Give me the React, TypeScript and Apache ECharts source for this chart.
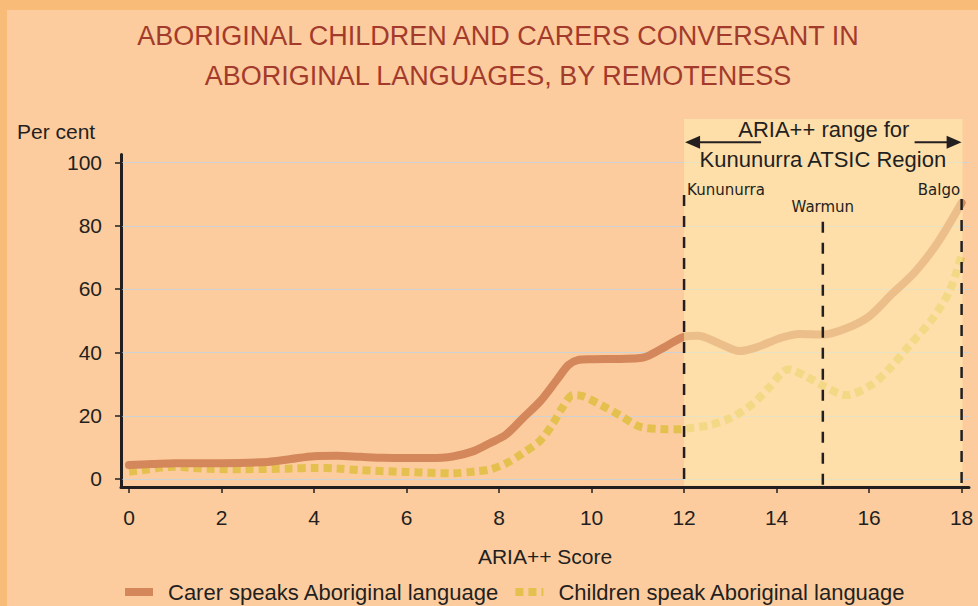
import React, { useEffect, useRef } from "react";
import * as echarts from "echarts";

const titleLines = [
  "ABORIGINAL CHILDREN AND CARERS CONVERSANT IN",
  "ABORIGINAL LANGUAGES, BY REMOTENESS",
];
const yAxisTitle = "Per cent";
const xAxisTitle = "ARIA++ Score";
const xTickValues = [0, 2, 4, 6, 8, 10, 12, 14, 16, 18];
const yTickValues = [0, 20, 40, 60, 80, 100];
const seriesNames = [
  "Carer speaks Aboriginal language",
  "Children speak Aboriginal language",
];

const carerX = [0, 0.5, 1, 2, 3, 3.5, 4, 4.5, 5, 5.5, 6, 6.5, 7, 7.45, 7.8, 8.15, 8.5, 8.9, 9.25, 9.5, 9.7, 10, 10.5, 11, 11.2, 11.6, 12, 12.3, 12.7, 13.2, 13.55, 14.1, 14.5, 15, 15.5, 16, 16.5, 17, 17.5, 18];
const carerY = [4.4, 4.7, 5.0, 5.0, 5.4, 6.3, 7.2, 7.3, 7.0, 6.7, 6.6, 6.6, 7.1, 8.8, 11.3, 14.0, 19.0, 24.7, 31.3, 36.0, 37.5, 37.8, 37.9, 38.1, 38.7, 41.8, 44.9, 45.2, 43.2, 40.4, 41.5, 44.6, 45.8, 45.6, 47.5, 51.3, 58.5, 65.5, 75.0, 87.2];

const childX = [0, 0.4, 0.7, 1, 1.3, 1.7, 2.5, 3.5, 4, 4.5, 5, 6, 7, 7.5, 7.8, 8.15, 8.5, 8.9, 9.17, 9.38, 9.6, 9.8, 10.2, 10.6, 11.05, 11.5, 11.9, 12.2, 12.55, 13, 13.5, 13.85, 14.25, 14.65, 15.05, 15.5, 16.05, 16.45, 16.85, 17.35, 17.75, 18];
const childY = [2.3, 3.0, 3.6, 3.9, 3.6, 3.2, 3.1, 3.3, 3.5, 3.3, 2.8, 2.2, 1.8, 2.4, 3.0, 4.9, 8.0, 12.3, 17.6, 22.8, 26.5, 26.2, 23.4, 20.2, 16.5, 15.8, 15.7, 16.2, 17.0, 19.2, 23.9, 29.1, 34.6, 32.3, 29.1, 26.5, 29.7, 35.0, 41.8, 50.2, 59.7, 70.7];

const rangeLines = ["ARIA++ range for", "Kununurra ATSIC Region"];
const rangeFrom = 12;
const rangeTo = 18;
const placeNames = ["Kununurra", "Warmun", "Balgo"];
const placeScores = [12, 15, 18];
const placeLineTops = [89.7, 81.2, 88.4];

const INK = "#231F20";
const CARER = "#D4875A";
const CHILD = "#E4C04F";
const OUTER = "#F8BB78";
const INNER = "#FCCC9E";
const GRIDLINE = "#CDD3D5";
const SANS = "Liberation Sans";

const X_MIN = -0.173;
const X_MAX = 18.16;

export default function App() {
  const ref = useRef<HTMLDivElement>(null);

  useEffect(() => {
    const el = ref.current;
    if (!el) return;
    const chart = echarts.init(el, null, { renderer: "svg" });
    const option: any = {
      animation: false,
      backgroundColor: "transparent",
      title: [
        {
          text: titleLines.join("\n"),
          left: 498,
          top: 16,
          padding: 0,
          textAlign: "center",
          textStyle: {
            fontFamily: SANS,
            fontSize: 27,
            fontWeight: "normal",
            color: "#A33B2C",
            lineHeight: 40,
          },
        },
        {
          text: yAxisTitle,
          left: 17,
          top: 120.5,
          padding: 0,
          textStyle: {
            fontFamily: SANS,
            fontSize: 21,
            fontWeight: "normal",
            color: INK,
            lineHeight: 21,
          },
        },
      ],
      legend: {
        left: 125,
        top: 581,
        padding: 0,
        itemWidth: 28,
        itemHeight: 8,
        itemGap: 16,
        symbolKeepAspect: false,
        textStyle: {
          fontFamily: SANS,
          fontSize: 22,
          color: INK,
          padding: [10, 0, 0, 10],
        },
        data: [
          { name: seriesNames[0], icon: "rect", itemStyle: { color: CARER, borderWidth: 0 } },
          {
            name: seriesNames[1],
            icon: "path://M0,0H8V8H0Z M13,0H21V8H13Z M26,0H28V8H26Z",
            itemStyle: { color: CHILD, borderWidth: 0 },
          },
        ],
      },
      grid: {
        left: 121,
        right: 9,
        top: 154.4,
        bottom: 119.1,
        containLabel: false,
        outerBoundsMode: "none",
      },
      xAxis: {
        type: "value",
        min: X_MIN,
        max: X_MAX,
        name: xAxisTitle,
        nameLocation: "middle",
        nameGap: 59.5,
        nameTextStyle: { fontFamily: SANS, fontSize: 21, color: INK },
        axisLine: { show: true, onZero: false, lineStyle: { color: INK, width: 3 } },
        axisTick: {
          show: true,
          customValues: xTickValues,
          length: 6,
          lineStyle: { color: INK, width: 1.5 },
        },
        axisLabel: {
          customValues: xTickValues,
          margin: 20,
          fontFamily: SANS,
          fontSize: 21,
          color: INK,
        },
        splitLine: { show: false },
      },
      yAxis: {
        type: "value",
        min: -2.5,
        max: 102.5,
        axisLine: { show: true, onZero: false, lineStyle: { color: INK, width: 3 } },
        axisTick: {
          show: true,
          customValues: yTickValues,
          length: 6,
          lineStyle: { color: INK, width: 1.5 },
        },
        axisLabel: {
          customValues: yTickValues,
          margin: 19,
          fontFamily: SANS,
          fontSize: 21,
          color: INK,
        },
        splitLine: { show: false },
      },
      series: [
        {
          type: "line",
          name: seriesNames[1],
          data: childX.map((x, i) => [x, childY[i]]),
          symbol: "none",
          smooth: 0.3,
          z: 3,
          itemStyle: { color: CHILD },
          lineStyle: { color: CHILD, width: 8, type: [8, 5], cap: "butt" },
        },
        {
          type: "line",
          name: seriesNames[0],
          data: carerX.map((x, i) => [x, carerY[i]]),
          symbol: "none",
          smooth: 0.3,
          z: 4,
          itemStyle: { color: CARER },
          lineStyle: { color: CARER, width: 8, cap: "round", join: "round" },
        },
      ],
    };
    chart.setOption(option);

    const px = (x: number, y: number) =>
      chart.convertToPixel({ gridIndex: 0 }, [x, y]) as number[];

    const graphics: any[] = [];

    // horizontal grid lines at the y tick values
    yTickValues.forEach((v) => {
      const [gx1, gy] = px(X_MIN, v);
      const [gx2] = px(X_MAX, v);
      graphics.push({
        type: "line",
        silent: true,
        z: 1,
        shape: { x1: gx1 + 1.5, y1: Math.round(gy) + 0.5, x2: gx2, y2: Math.round(gy) + 0.5 },
        style: { stroke: GRIDLINE, lineWidth: 1 },
      });
    });

    const [xa, yTop] = px(rangeFrom, 113.7);
    const [xb, yBot] = px(rangeTo, -2.5);
    const [, arrowY] = px(rangeTo, 106.3);
    const cx = (xa + xb) / 2;

    graphics.push({
      type: "rect",
      silent: true,
      z: 50,
      shape: { x: xa, y: yTop, width: xb - xa + 1, height: yBot - yTop - 1.5 },
      style: { fill: "rgba(255,236,178,0.55)" },
    });

    placeScores.forEach((s, i) => {
      const [lx, ly1] = px(s, placeLineTops[i]);
      const [, ly2] = px(s, -2.5);
      graphics.push({
        type: "line",
        silent: true,
        z: 60,
        shape: { x1: lx, y1: ly1, x2: lx, y2: ly2 },
        style: { stroke: INK, lineWidth: 2.5, lineDash: [11, 10] },
      });
      let tx = lx;
      let align = "center";
      let ty = ly1 - 15;
      if (i === 0) {
        tx = lx + 3;
        align = "left";
        ty = ly1 - 5;
      } else if (i === placeScores.length - 1) {
        tx = lx - 1.5;
        align = "right";
        ty = ly1 - 9.5;
      }
      graphics.push({
        type: "text",
        silent: true,
        z: 60,
        x: tx,
        y: ty,
        style: {
          text: placeNames[i],
          fill: INK,
          font: "15px 'DejaVu Sans'",
          textAlign: align,
          textVerticalAlign: "middle",
        },
      });
    });

    // range arrows
    const tipL = xa + 1;
    const tipR = xb;
    graphics.push(
      {
        type: "line",
        silent: true,
        z: 60,
        shape: { x1: tipL + 8, y1: arrowY, x2: tipL + 76, y2: arrowY },
        style: { stroke: INK, lineWidth: 2 },
      },
      {
        type: "polygon",
        silent: true,
        z: 60,
        shape: { points: [[tipL, arrowY], [tipL + 15, arrowY - 6.5], [tipL + 15, arrowY + 6.5]] },
        style: { fill: INK },
      },
      {
        type: "line",
        silent: true,
        z: 60,
        shape: { x1: tipR - 47, y1: arrowY, x2: tipR - 8, y2: arrowY },
        style: { stroke: INK, lineWidth: 2 },
      },
      {
        type: "polygon",
        silent: true,
        z: 60,
        shape: { points: [[tipR, arrowY], [tipR - 15, arrowY - 6.5], [tipR - 15, arrowY + 6.5]] },
        style: { fill: INK },
      },
      {
        type: "text",
        silent: true,
        z: 60,
        x: cx + 1,
        y: arrowY - 12.8,
        style: {
          text: rangeLines[0],
          fill: INK,
          font: `22px '${SANS}'`,
          textAlign: "center",
          textVerticalAlign: "middle",
        },
      },
      {
        type: "text",
        silent: true,
        z: 60,
        x: cx,
        y: arrowY + 16.7,
        style: {
          text: rangeLines[1],
          fill: INK,
          font: `22px '${SANS}'`,
          textAlign: "center",
          textVerticalAlign: "middle",
        },
      }
    );

    chart.setOption({ graphic: graphics });

    return () => {
      chart.dispose();
    };
  }, []);

  return (
    <div style={{ position: "fixed", left: 0, top: 0, width: 978, height: 606, overflow: "hidden" }}>
      <div
        style={{
          position: "absolute",
          left: 0,
          top: 0,
          width: 978,
          height: 606,
          boxSizing: "border-box",
          background: INNER,
          borderTop: `10px solid ${OUTER}`,
          borderLeft: `7px solid ${OUTER}`,
        }}
      />
      <div ref={ref} style={{ position: "absolute", left: 0, top: 0, width: 978, height: 606 }} />
    </div>
  );
}
